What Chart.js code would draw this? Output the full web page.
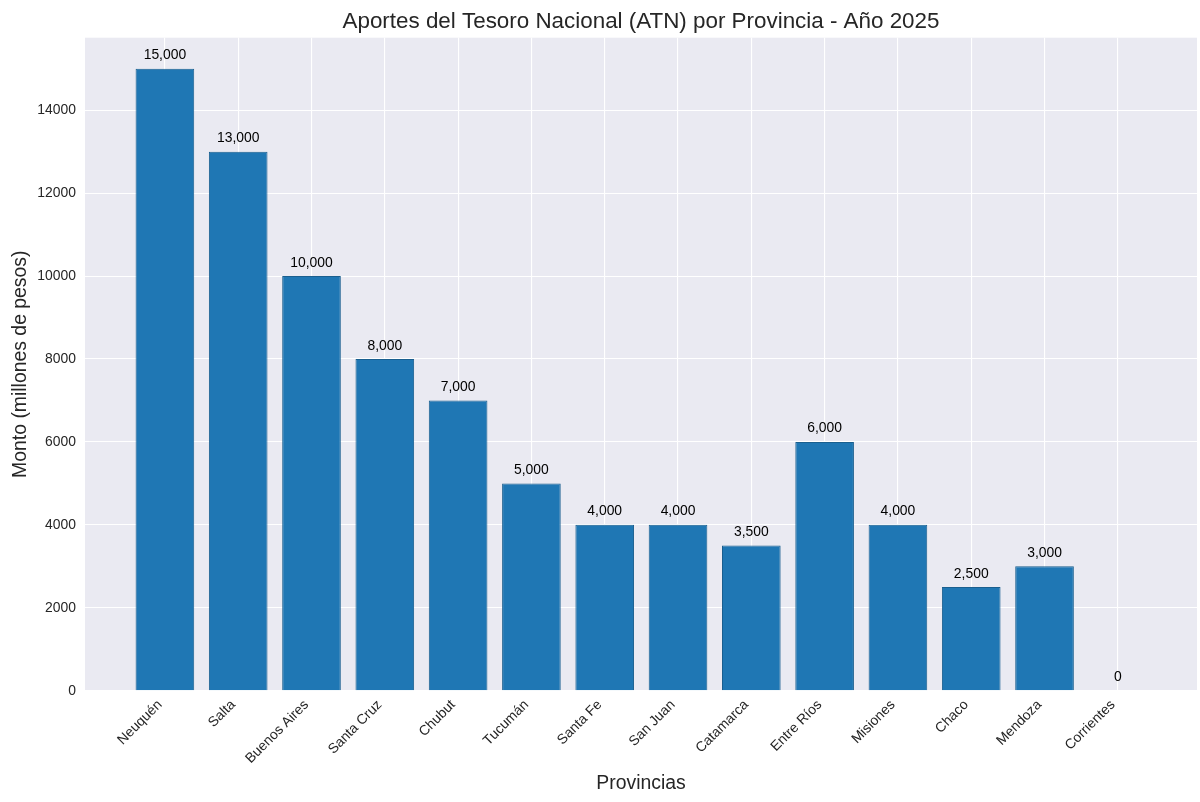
<!DOCTYPE html>
<html>
<head>
<meta charset="utf-8">
<script src="https://cdn.jsdelivr.net/npm/chart.js@4"></script>
<style>
html,body{margin:0;padding:0;background:#fff;}
#wrap{width:1200px;height:802px;}
</style>
</head>
<body>
<div id="wrap"><canvas id="c" width="1200" height="802"></canvas></div>
<script>
const categories = ["Neuquén","Salta","Buenos Aires","Santa Cruz","Chubut","Tucumán","Santa Fe","San Juan","Catamarca","Entre Ríos","Misiones","Chaco","Mendoza","Corrientes"];
const values = [15000,13000,10000,8000,7000,5000,4000,4000,3500,6000,4000,2500,3000,0];
const yTicks = [0,2000,4000,6000,8000,10000,12000,14000];
const titleText = 'Aportes del Tesoro Nacional (ATN) por Provincia - Año 2025';

const FONT = "'Liberation Sans', Arial, sans-serif";
const TXT = '#262626';

const bgPlugin = {
  id:'bg',
  beforeDraw(chart){
    const {ctx, chartArea:a} = chart;
    ctx.save();
    ctx.fillStyle = '#EAEAF2';
    ctx.fillRect(a.left, a.top, a.right-a.left, a.bottom-a.top);
    ctx.restore();
  },
  afterDraw(chart){
    const {ctx, chartArea:a} = chart;
    ctx.save();
    ctx.fillStyle = TXT;
    ctx.font = "22.4px " + FONT;
    ctx.textAlign = 'center';
    ctx.textBaseline = 'middle';
    ctx.fillText(titleText, (a.left + a.right)/2, 22);
    ctx.restore();
  }
};
const labelPlugin = {
  id:'vals',
  afterDatasetsDraw(chart){
    const {ctx} = chart;
    const meta = chart.getDatasetMeta(0);
    ctx.save();
    ctx.fillStyle = '#000';
    ctx.font = "13.9px " + FONT;
    ctx.textAlign = 'center';
    ctx.textBaseline = 'alphabetic';
    meta.data.forEach((bar,i)=>{
      ctx.fillText(values[i].toLocaleString('en-US'), bar.x, bar.y - 9.5);
    });
    ctx.restore();
  }
};

new Chart(document.getElementById('c'), {
  type:'bar',
  data:{
    datasets:[{
      data: values.map((v,i)=>({x:i,y:v})),
      backgroundColor:'#1f77b4',
      borderColor:'#1a5f8f',
      borderWidth:1,
      barPercentage:0.8,
      categoryPercentage:1.0
    }]
  },
  options:{
    responsive:false,
    animation:false,
    devicePixelRatio:1,
    layout:{padding:{left:0,right:3,top:37.7,bottom:0}},
    plugins:{
      legend:{display:false},
      tooltip:{enabled:false},
      title:{display:false}
    },
    scales:{
      x:{
        type:'linear',
        min:-1.09,
        max:14.08,
        offset:false,
        afterBuildTicks(s){ s.ticks = categories.map((c,i)=>({value:i})); },
        afterFit(s){ s.height = 111.3; },
        border:{display:false},
        grid:{color:'#ffffff',lineWidth:1.1,drawTicks:false,offset:false},
        ticks:{
          autoSkip:false,
          minRotation:45,maxRotation:45,
          padding:6,
          labelOffset:-5,
          color:TXT,
          font:{family:FONT,size:13.9},
          callback:(v)=>categories[v]
        },
        title:{display:true,text:'Provincias',color:TXT,font:{family:FONT,size:19.4,lineHeight:1.2},padding:{top:7,bottom:7}}
      },
      y:{
        min:0,
        max:15750,
        afterBuildTicks(s){ s.ticks = yTicks.map(v=>({value:v})); },
        afterFit(s){ s.width = 85; },
        border:{display:false},
        grid:{color:'#ffffff',lineWidth:1.1,drawTicks:false},
        ticks:{
          padding:9,
          color:TXT,
          font:{family:FONT,size:13.9},
          callback:(v)=>String(v)
        },
        title:{display:true,text:'Monto (millones de pesos)',color:TXT,font:{family:FONT,size:19.4,lineHeight:1.2},padding:{top:9,bottom:9}}
      }
    }
  },
  plugins:[bgPlugin,labelPlugin]
});
</script>
</body>
</html>
